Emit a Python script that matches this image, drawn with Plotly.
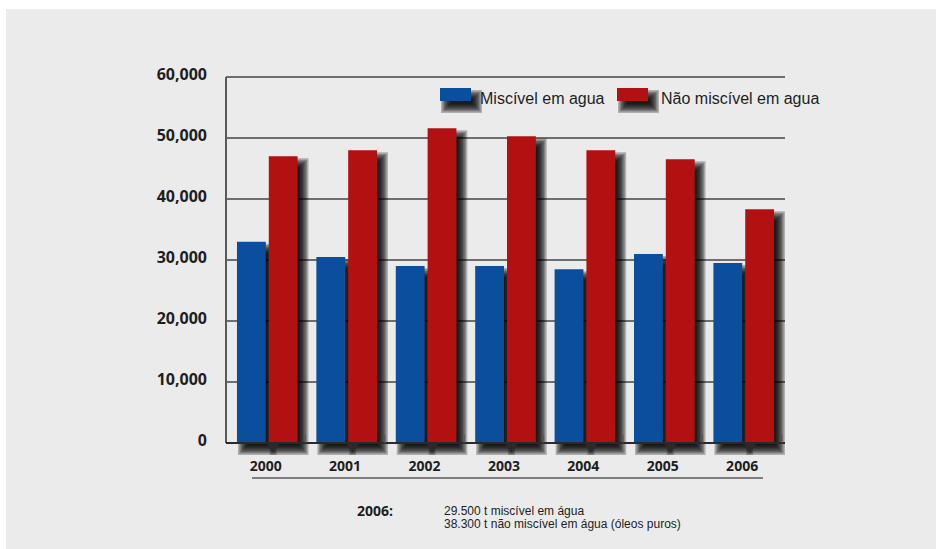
import plotly.graph_objects as go

# ---- data ----
years = ["2000", "2001", "2002", "2003", "2004", "2005", "2006"]
miscivel = [33000, 30500, 29000, 29000, 28500, 31000, 29500]
nao_miscivel = [47000, 48000, 51600, 50300, 48000, 46500, 38300]
y_ticks = [0, 10000, 20000, 30000, 40000, 50000, 60000]
series_names = ["Miscível em agua", "Não miscível em agua"]
note_title = "2006:"
note_lines = ["29.500 t miscível em água",
              "38.300 t não miscível em água (óleos puros)"]

# ---- page geometry (pixels) ----
W, H = 936, 549
BG = "#ebebeb"
BLUE = "#0a4f9e"
RED = "#b31111"
TXT = "#1e1e1e"

PLOT_L, PLOT_R = 226, 785          # horizontal extent of the plotting area
ZERO_PX, PX_PER_10K = 443, 61      # vertical scale
Y_MIN, Y_MAX = -2100, 60500        # room under zero for the drop shadows
plot_top = ZERO_PX - Y_MAX / 10000 * PX_PER_10K
plot_bot = ZERO_PX - Y_MIN / 10000 * PX_PER_10K

cat_px = (PLOT_R - PLOT_L) / len(years)
ux = 1.0 / cat_px                  # category units per pixel
uy = 10000.0 / PX_PER_10K          # value units per pixel


def fx(px):
    return px / W


def fy(py):
    return 1 - py / H


BAR_W = 29 * ux
OFFSETS = [-28.9 * ux, 3.1 * ux]
COLORS = [BLUE, RED]
SERIES = [miscivel, nao_miscivel]

fig = go.Figure()
for name, vals, col, off in zip(series_names, SERIES, COLORS, OFFSETS):
    fig.add_trace(go.Bar(
        x=years, y=vals, name=name, marker_color=col, marker_line_width=0,
        width=BAR_W, offset=off, showlegend=False,
    ))

shapes = []

# page background panel
shapes.append(dict(type="rect", xref="paper", yref="paper", layer="below",
                   x0=fx(6), x1=1, y0=0, y1=fy(9),
                   fillcolor=BG, line_width=0))

# soft drop shadows: stacked translucent rectangles approximate a blur
SH_DX, SH_DY, SH_R, SH_N, SH_A = 6, 7, 5, 8, 0.25


def shadow_rects(x0, x1, y0, y1, xref, yref, sx, sy, layer):
    out = []
    for k in range(SH_N):
        e = SH_R * (1 - 2 * k / (SH_N - 1))
        out.append(dict(
            type="rect", xref=xref, yref=yref, layer=layer,
            x0=x0 + (SH_DX - e) * sx, x1=x1 + (SH_DX + e) * sx,
            y0=y0 + (SH_DY + e) * sy, y1=y1 + (SH_DY - e) * sy,
            fillcolor="black", opacity=SH_A, line_width=0,
        ))
    return out


for vals, off in zip(SERIES, OFFSETS):
    for i, v in enumerate(vals):
        x0 = i + off
        shapes += shadow_rects(x0, x0 + BAR_W, 0, v, "x", "y", ux, -uy,
                               "between")

# y axis line (from zero to the top gridline)
shapes.append(dict(type="line", xref="x domain", yref="y", layer="above",
                   x0=0, x1=0, y0=0, y1=y_ticks[-1],
                   line=dict(color="#5a5a5a", width=2)))
# x axis line
shapes.append(dict(type="line", xref="x domain", yref="y", layer="above",
                   x0=0, x1=1, y0=0, y1=0,
                   line=dict(color="#2a2a2a", width=2)))
# short upward ticks on the category boundaries
for i in range(len(years)):
    shapes.append(dict(type="line", xref="x", yref="y", layer="above",
                       x0=i + 0.5, x1=i + 0.5, y0=0, y1=8 * uy,
                       line=dict(color="#555555", width=1.2)))

# rule under the year labels
shapes.append(dict(type="line", xref="paper", yref="paper", layer="above",
                   x0=fx(252), x1=fx(763), y0=fy(478), y1=fy(478),
                   line=dict(color="#5a5a5a", width=1.5)))

annotations = []

# legend: swatches with shadows plus labels
legend_items = [(440, 478), (617, 659)]
for (sx0, tx), col, name in zip(legend_items, COLORS, series_names):
    shapes += shadow_rects(fx(sx0), fx(sx0 + 31), fy(101), fy(88),
                           "paper", "paper", 1 / W, -1 / H, "above")
    shapes.append(dict(type="rect", xref="paper", yref="paper", layer="above",
                       x0=fx(sx0), x1=fx(sx0 + 31), y0=fy(101), y1=fy(88),
                       fillcolor=col, line_width=0))
    annotations.append(dict(xref="paper", yref="paper", x=fx(tx), y=fy(98),
                            xanchor="left", yanchor="middle", showarrow=False,
                            text=name,
                            font=dict(family="Liberation Sans", size=16,
                                      color=TXT)))

# note under the chart
annotations.append(dict(xref="paper", yref="paper", x=fx(355), y=fy(510),
                        xanchor="left", yanchor="middle", showarrow=False,
                        text=note_title,
                        font=dict(family="Open Sans", size=14, color=TXT,
                                  weight=700)))
for j, line in enumerate(note_lines):
    annotations.append(dict(xref="paper", yref="paper", x=fx(442),
                            y=fy(511 + 13 * j),
                            xanchor="left", yanchor="middle", showarrow=False,
                            text=line,
                            font=dict(family="Liberation Sans", size=12,
                                      color=TXT)))

fig.update_layout(
    width=W, height=H,
    margin=dict(l=0, r=0, t=0, b=0),
    paper_bgcolor="white",
    plot_bgcolor="rgba(0,0,0,0)",
    barmode="group",
    shapes=shapes,
    annotations=annotations,
    xaxis=dict(
        domain=[fx(PLOT_L), fx(PLOT_R)],
        type="category",
        automargin=False,
        showgrid=False, zeroline=False, showline=False, ticks="",
        tickfont=dict(family="Open Sans", size=14, color=TXT, weight=700),
        ticklabelstandoff=0,
        fixedrange=True,
    ),
    yaxis=dict(
        domain=[fy(plot_bot), fy(plot_top)],
        range=[Y_MIN, Y_MAX],
        automargin=False,
        tickvals=y_ticks,
        tickformat=",",
        showgrid=True, gridcolor="#6e6e6e", gridwidth=1.5,
        zeroline=False, showline=False, ticks="",
        tickfont=dict(family="Open Sans", size=16, color=TXT, weight=700),
        ticklabelstandoff=18,
        ticklabelshift=-3,
        fixedrange=True,
    ),
)

fig.write_html("out.html")
